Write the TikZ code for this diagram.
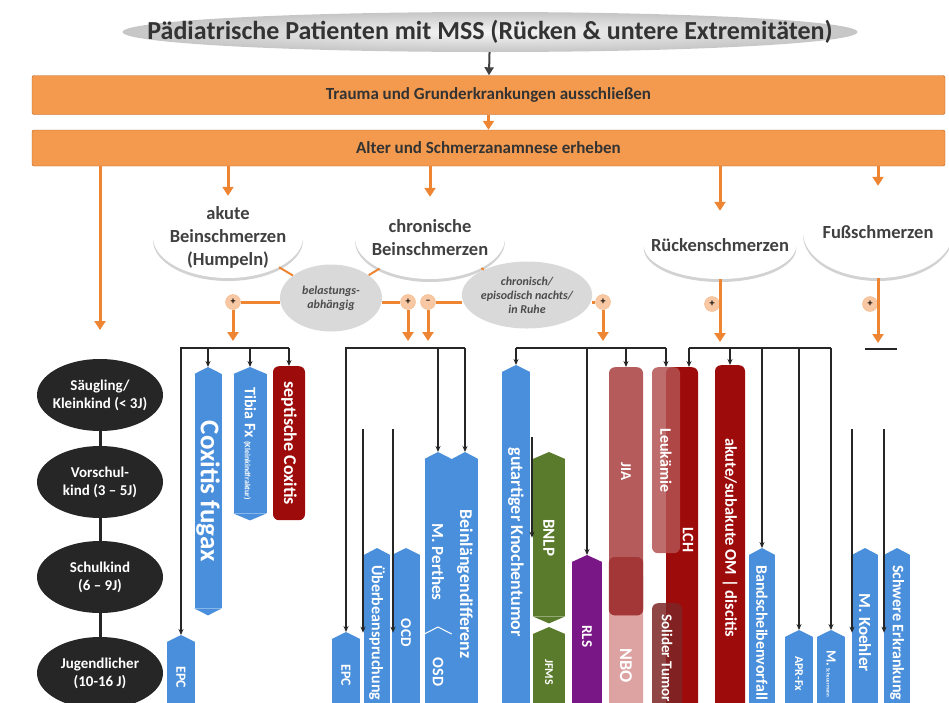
\documentclass[tikz,border=0pt]{standalone}
\usepackage{fontspec}
\setmainfont{Carlito}
\usepackage{graphicx}
\usetikzlibrary{arrows.meta,positioning,shapes.geometric,shadows}
\definecolor{orfill}{HTML}{F39A4F}
\definecolor{ordraw}{HTML}{B85C1A}
\definecolor{orarr}{HTML}{EE8533}
\definecolor{blu}{HTML}{4A8FDB}
\definecolor{dred}{HTML}{9E0B0B}
\definecolor{bnlpgrn}{HTML}{5A7A2C}
\definecolor{purp}{HTML}{7A1786}
\definecolor{jiared}{HTML}{B65B5B}
\definecolor{jiadk}{HTML}{A33636}
\definecolor{nbopink}{HTML}{DDA3A3}
\definecolor{leukred}{HTML}{B45252}
\definecolor{soltum}{HTML}{7E2626}
\definecolor{grayell}{HTML}{D9D9D9}
\definecolor{agebk}{HTML}{262626}
\tikzset{
  obox/.style={draw=ordraw,fill=orfill,rounded corners=2pt,minimum width=913,font=\bfseries\fontsize{17}{19}\selectfont,text=black!80},
  orar/.style={-{Triangle[length=9pt,width=11pt]},line width=3pt,orarr},
  orln/.style={line width=3pt,orarr},
  blkar/.style={-{Stealth[length=6pt,width=5pt]},line width=1.3pt,black!85},
  blk/.style={line width=1.3pt,black!85},
  catell/.style={ellipse,fill=white,drop shadow={shadow xshift=0pt,shadow yshift=-3pt,fill=gray!35,opacity=1},align=center,inner xsep=-15pt,inner ysep=-5pt,font=\bfseries\fontsize{18.5}{23}\selectfont,text=black!75},
  grell/.style={ellipse,fill=grayell,align=center,inner sep=0pt,minimum width=102,minimum height=67,font=\bfseries\itshape\fontsize{12}{14}\selectfont,text=black!70},
  ageell/.style={ellipse,fill=agebk,text=white,align=center,minimum width=126,minimum height=72,inner sep=-6pt,font=\bfseries\fontsize{15}{18}\selectfont},
  junc/.style={circle,fill=orarr!45,draw=orarr!60,minimum size=15,inner sep=0pt,font=\bfseries\fontsize{10}{10}\selectfont},
  bar/.style={rectangle,minimum width=28,anchor=north,inner sep=0pt,text=white,font=\bfseries\fontsize{18}{20}\selectfont},
  rbar/.style={bar,rounded corners=6pt}
}
\begin{document}
\begin{tikzpicture}[x=1pt,y=-1pt]
\useasboundingbox (0,0) rectangle (949,702);
% top
\node[ellipse,inner color=gray!8,outer color=gray!45,minimum width=735,minimum height=40,inner xsep=-95pt,inner ysep=0pt,font=\bfseries\fontsize{26}{28}\selectfont,text=black!80] (pat) at (490,32) {Pädiatrische Patienten mit MSS (Rücken \& untere Extremitäten)};
\node[obox,minimum height=39] (trauma) at (488.5,95) {Trauma und Grunderkrankungen ausschließen};
\node[obox,minimum height=36] (alter) at (488.5,148) {Alter und Schmerzanamnese erheben};
\draw[-{Triangle[length=8pt,width=9pt]},line width=2pt,black!75] (pat) -- (trauma);
\draw[orar] (trauma) -- (alter);

% pain categories
\node[catell,minimum width=150,minimum height=82] (akut) at (228,237) {akute\\Beinschmerzen\\(Humpeln)};
\node[catell,minimum width=150,minimum height=82] (chron) at (430,238) {chronische\\Beinschmerzen};
\node[catell,minimum width=145,minimum height=68] (rueck) at (720,245) {Rückenschmerzen};
\node[catell,minimum width=150,minimum height=92] (fuss) at (878,232) {Fußschmerzen};
\foreach \c in {akut,chron,rueck,fuss}
  \draw[orar] (alter.south -| \c) -- (\c.north);
\coordinate (agein) at (100,330);
\draw[orar] (alter.south -| agein) -- (agein);

\node[grell] (belast) at (331,298) {belastungs-\\abhängig};
\node[grell] (nachts) at (527,295) {chronisch/\\episodisch nachts/\\in Ruhe};
\draw[orln,line width=2pt] (akut) -- (belast);
\draw[orln,line width=2pt] (chron) -- (belast);
\draw[orln,line width=2pt] (chron) -- (nachts);

% junctions
\node[junc] (jA) at (233,302) {+};
\node[junc] (jB) at (408,302) {+};
\node[junc] (jC) at (428,302) {--};
\node[junc] (jD) at (603,302) {+};
\node[junc] (jE) at (712,304) {+};
\node[junc] (jF) at (870,304) {+};
\draw[orln] (jA -| belast.west) -- (jA);
\draw[orln] (jB -| belast.east) -- (jB);
\draw[orln] (jC) -- (jC -| nachts.west);
\draw[orln] (jD -| nachts.east) -- (jD);

% age column
\node[ageell] (age1) at (100,395) {Säugling/\\Kleinkind (< 3J)};
\node[ageell] (age2) at (100,482) {Vorschul-\\kind (3 -- 5J)};
\node[ageell] (age3) at (100,577) {Schulkind\\(6 -- 9J)};
\node[ageell] (age4) at (100,673) {Jugendlicher\\(10-16 J)};
\draw[line width=3pt,agebk] (age1) -- (age2) (age2) -- (age3) (age3) -- (age4);

% bars: acute leg pain
\node[bar,fill=blu,minimum width=27,minimum height=234,font=\bfseries\fontsize{27}{29}\selectfont] (coxf) at (208,374) {\rotatebox{-90}{Coxitis fugax}};
\node[bar,fill=blu,minimum width=33,minimum height=139,font=\bfseries\fontsize{16}{18}\selectfont] (tibia) at (250,374) {\rotatebox{-90}{Tibia Fx {\fontsize{8}{9}\selectfont(Kleinkindfraktur)}}};
\node[rbar,fill=dred,minimum width=32,minimum height=154] (septc) at (289,366) {\rotatebox{-90}{septische Coxitis}};
\node[bar,fill=blu,font=\bfseries\fontsize{14}{16}\selectfont,minimum height=70] (epcA) at (181,642) {\rotatebox{-90}{EPC}};

% bars: chronic leg pain
\node[bar,fill=blu,font=\bfseries\fontsize{14}{16}\selectfont,minimum height=72] (epcB) at (346,639) {\rotatebox{-90}{EPC}};
\node[bar,fill=blu,minimum width=26,minimum height=155,font=\bfseries\fontsize{16}{18}\selectfont] (ueb) at (377,555) {\rotatebox{-90}{Überbeanspruchung}};
\node[bar,fill=blu,minimum height=155,font=\bfseries\fontsize{15}{17}\selectfont] (ocd) at (406,555) {\rotatebox{-90}{OCD}};
\node[bar,fill=blu,minimum width=27,minimum height=206,font=\bfseries\fontsize{17}{19}\selectfont] (perth) at (438,459) {\rotatebox{-90}{M. Perthes}};
\node[bar,fill=blu,minimum width=27,minimum height=76,font=\bfseries\fontsize{16}{18}\selectfont] (osd) at (438,634) {\rotatebox{-90}{OSD}};
\node[bar,fill=blu,minimum width=26,minimum height=250] (beinl) at (465,459) {\rotatebox{-90}{Beinlängendifferenz}};
\node[bar,fill=blu,minimum height=340] (gutart) at (516,372) {\rotatebox{-90}{gutartiger Knochentumor}};
\node[bar,fill=bnlpgrn,minimum width=32,minimum height=157,font=\bfseries\fontsize{17}{19}\selectfont] (bnlp) at (549,459) {\rotatebox{-90}{BNLP}};
\node[bar,fill=bnlpgrn,minimum width=32,minimum height=76,font=\bfseries\fontsize{12}{14}\selectfont] (jfms) at (549,634) {\rotatebox{-90}{JFMS}};
\node[bar,fill=purp,minimum width=30,minimum height=148,font=\bfseries\fontsize{15}{17}\selectfont] (rls) at (587,562) {\rotatebox{-90}{RLS}};
\node[rbar,fill=nbopink,minimum width=34,minimum height=140] (nbo) at (626,570) {\rotatebox{-90}{\hspace{50pt}NBO}};
\node[rbar,fill=jiared,minimum width=34,minimum height=248,font=\bfseries\fontsize{15}{17}\selectfont] (jia) at (626,367) {\rotatebox{-90}{JIA\hspace{40pt}}};
\fill[jiadk,rounded corners=6pt] (jia.west |- 0,557) -- (jia.south west) -- (jia.south east) -- (jia.east |- 0,557) -- cycle;
\node[rbar,fill=dred,minimum width=32,minimum height=345,font=\bfseries\fontsize{16}{18}\selectfont] (lch) at (682,367) {\rotatebox{-90}{\raisebox{12pt}{LCH}}};
\node[rbar,fill=leukred,fill opacity=0.85,text opacity=1,minimum width=28,minimum height=186,font=\bfseries\fontsize{16}{18}\selectfont] (leuk) at (666,367) {\rotatebox{-90}{Leukämie}};
\node[rbar,fill=soltum,fill opacity=0.85,text opacity=1,minimum width=30,minimum height=110,font=\bfseries\fontsize{15}{17}\selectfont] (solt) at (667,603) {\rotatebox{-90}{Solider Tumor}};

% bars: back pain
\node[rbar,fill=dred,minimum width=30,minimum height=345,font=\bfseries\fontsize{16.5}{18}\selectfont] (om) at (730,365) {\rotatebox{-90}{akute/subakute OM | discitis}};
\node[bar,fill=blu,minimum width=26,minimum height=155,font=\bfseries\fontsize{16}{18}\selectfont] (bsv) at (762,555) {\rotatebox{-90}{Bandscheibenvorfall}};
\node[bar,fill=blu,minimum height=73,font=\bfseries\fontsize{12}{14}\selectfont] (apr) at (799,637) {\rotatebox{-90}{APR-Fx}};
\node[bar,fill=blu,minimum height=73,font=\bfseries\fontsize{14}{16}\selectfont] (scheu) at (831,637) {\rotatebox{-90}{M.\,{\fontsize{5}{6}\selectfont Scheuermann}}};

% bars: foot pain
\node[bar,fill=blu,minimum width=26,minimum height=155,font=\bfseries\fontsize{17}{19}\selectfont] (koeh) at (865,555) {\rotatebox{-90}{M. Koehler}};
\node[bar,fill=blu,minimum width=26,minimum height=155,font=\bfseries\fontsize{16}{18}\selectfont] (schw) at (897,555) {\rotatebox{-90}{Schwere Erkrankung}};

% pointed ends
\foreach \b/\c in {coxf/blu,tibia/blu,epcA/blu,epcB/blu,ueb/blu,ocd/blu,perth/blu,beinl/blu,gutart/blu,bnlp/bnlpgrn,jfms/bnlpgrn,rls/purp,bsv/blu,apr/blu,scheu/blu,koeh/blu,schw/blu}
  \fill[\c] (\b.north west) -- ([yshift=7pt]\b.north) -- (\b.north east) -- cycle;
\foreach \b/\c in {coxf/blu,tibia/blu,bnlp/bnlpgrn}
  \fill[\c] (\b.south west) -- ([yshift=-7pt]\b.south) -- (\b.south east) -- cycle;
\fill[blu,draw=white,line width=1pt] (osd.north west) -- ([yshift=7pt]osd.north) -- (osd.north east);

% group A
\coordinate (brA) at (181,348);
\draw[orar,shorten >=7pt] (jA) -- (jA |- brA);
\draw[blkar] (septc.north |- brA) -| ([yshift=7pt]epcA.north);
\foreach \b in {coxf,tibia}
  \draw[blkar] (\b.north |- brA) -- ([yshift=7pt]\b.north);
\draw[blkar] (septc.north |- brA) -- (septc.north);

% group B
\coordinate (brB) at (346,348);
\draw[orar,shorten >=7pt] (jB) -- (jB |- brB);
\draw[orar,shorten >=7pt] (jC) -- (jC |- brB);
\draw[blkar] (beinl.north |- brB) -| ([yshift=7pt]epcB.north);
\foreach \b in {perth,beinl}
  \draw[blkar] (\b.north |- brB) -- ([yshift=7pt]\b.north);
\coordinate (uebS) at (363,429);
\coordinate (ocdS) at (393,429);
\draw[blkar] (uebS) -- (uebS |- ueb.center);
\draw[blkar] (ocdS) -- (ocdS |- ocd.center);

% group C
\coordinate (brC) at (516,348);
\draw[orar,shorten >=7pt] (jD) -- (jD |- brC);
\draw[blk] (brC) -- (leuk.north |- brC);
\foreach \b in {gutart,rls}
  \draw[blkar] (\b.north |- brC) -- ([yshift=7pt]\b.north);
\foreach \b in {jia,leuk}
  \draw[blkar] (\b.north |- brC) -- (\b.north);
\coordinate (bnlpS) at (532,437);
\draw[blkar] (bnlpS) -- (bnlpS |- bnlp.center);

% group D
\coordinate (brD) at (689,348);
\draw[orar,shorten >=6pt] (rueck.south) -- (rueck.south |- brD);
\draw[blk] (brD) -- (scheu.north |- brD);
\draw[blkar] (brD) -- (brD |- lch.north);
\draw[blkar] (om.north |- brD) -- (om.north);
\foreach \b in {bsv,apr,scheu}
  \draw[blkar] (\b.north |- brD) -- ([yshift=7pt]\b.north);

% foot
\coordinate (fline) at (881,349);
\draw[orar,shorten >=6pt] (fuss.south) -- (fuss.south |- fline);
\draw[blk,line width=2pt] ([xshift=-16pt]fline) -- ([xshift=16pt]fline);
\coordinate (koeS) at (852,429);
\coordinate (schS) at (884,429);
\draw[blkar] (koeS) -- (koeS |- koeh.center);
\draw[blkar] (schS) -- (schS |- schw.center);
\end{tikzpicture}
\end{document}
